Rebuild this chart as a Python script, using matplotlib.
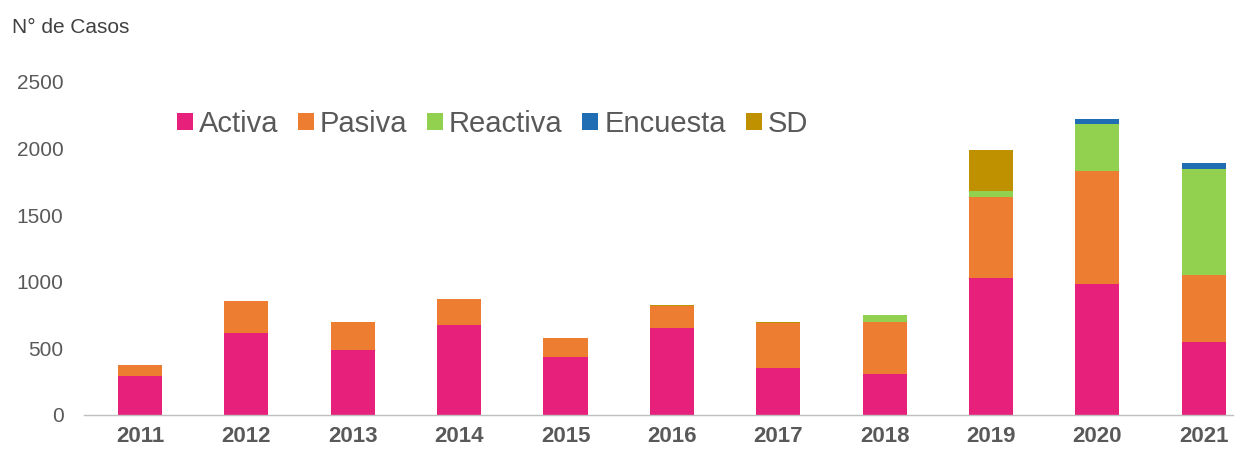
import numpy as np
import matplotlib
matplotlib.use('Agg')
import matplotlib.pyplot as plt

plt.rcParams['font.family'] = ['Liberation Sans', 'DejaVu Sans']

# Cases per year, split by detection type
years = ['2011', '2012', '2013', '2014', '2015', '2016', '2017', '2018', '2019', '2020', '2021']
activa = [292, 617, 485, 675, 437, 652, 355, 305, 1030, 983, 545]
pasiva = [83, 238, 215, 193, 143, 163, 333, 395, 608, 845, 505]
reactiva = [0, 0, 0, 0, 0, 0, 0, 48, 45, 355, 793]
encuesta = [0, 0, 0, 0, 0, 0, 0, 0, 0, 42, 45]
sd = [0, 0, 0, 0, 0, 10, 8, 0, 305, 0, 0]

series = [
    ('Activa', activa, '#E6207B'),
    ('Pasiva', pasiva, '#ED7D31'),
    ('Reactiva', reactiva, '#92D050'),
    ('Encuesta', encuesta, '#1F6EB4'),
    ('SD', sd, '#BF9000'),
]

fig = plt.figure(figsize=(12.4, 4.55), dpi=100)
ax = fig.add_axes([0.068, 0.088, 0.926, 0.732])

x = np.arange(len(years))
bottom = np.zeros(len(years))
for name, vals, color in series:
    vals = np.array(vals, dtype=float)
    ax.bar(x, vals, width=0.414, bottom=bottom, color=color, label=name,
           edgecolor='none')
    bottom += vals

ax.set_xlim(-0.523, 10.27)
ax.set_ylim(0, 2500)
ax.set_yticks([0, 500, 1000, 1500, 2000, 2500])
ax.set_xticks(x)
ax.set_xticklabels(years, fontsize=16, fontweight='bold', color='#595959')
ax.tick_params(axis='y', length=0, pad=15, labelsize=15, labelcolor='#595959')
ax.tick_params(axis='x', length=0, pad=8)

for side in ['top', 'right', 'left']:
    ax.spines[side].set_visible(False)
ax.spines['bottom'].set_color('#BFBFBF')
ax.spines['bottom'].set_linewidth(1)

fig.text(0.01, 0.94, 'N° de Casos', fontsize=15, color='#404040', va='center')

fig.legend(loc='center left', bbox_to_anchor=(0.1425, 0.728), ncol=5,
           frameon=False, fontsize=21, borderpad=0, borderaxespad=0,
           handlelength=0.55, handleheight=0.55, handletextpad=0.2,
           columnspacing=0.68, labelcolor='#595959')

fig.savefig('out.png', dpi=100)
